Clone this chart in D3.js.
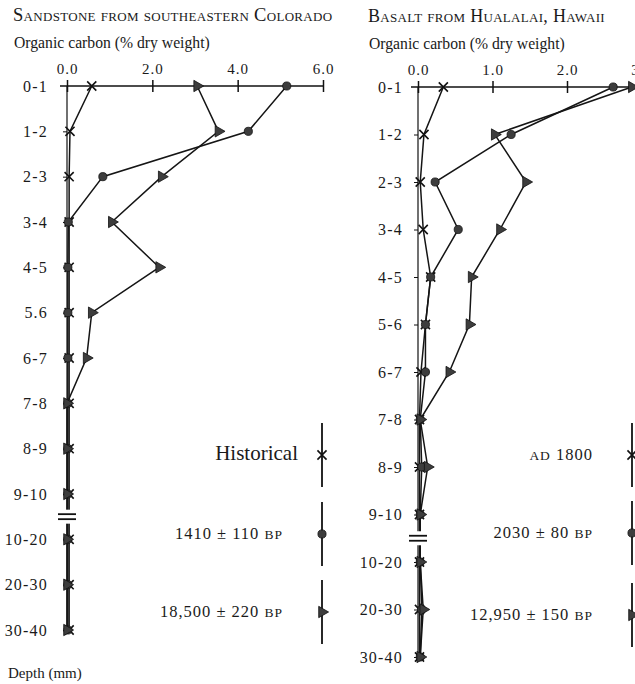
<!DOCTYPE html>
<html>
<head>
<meta charset="utf-8">
<script src="https://cdn.jsdelivr.net/npm/d3@7"></script>
<style>
  body { margin: 0; background: #fff; }
  svg text { font-family: 'Liberation Serif', 'Times New Roman', serif; fill: #1a1a1a; }
</style>
</head>
<body>
<div id="chart"></div>
<script>
const w = 635,
      h = 684;

// depth intervals (mm) -- left panel label "5.6" as printed
const depthCO = ['0-1', '1-2', '2-3', '3-4', '4-5', '5.6', '6-7', '7-8', '8-9', '9-10', '10-20', '20-30', '30-40'];
const depthHI = ['0-1', '1-2', '2-3', '3-4', '4-5', '5-6', '6-7', '7-8', '8-9', '9-10', '10-20', '20-30', '30-40'];

const ticksCO = [0, 2, 4, 6];
const ticksHI = [0, 1, 2, 3];

// organic carbon, % dry weight
const historicalCO = [0.58, 0.07, 0.05, 0.05, 0.05, 0.05, 0.05, 0.05, 0.05, 0.05, 0.05, 0.05, 0.05];
const bp1410CO     = [5.15, 4.25, 0.84, 0.03, 0.02, 0.02, 0.02, 0.02, 0.02, 0.02, 0.02, 0.02, 0.02];
const bp18500CO    = [3.05, 3.55, 2.22, 1.05, 2.16, 0.58, 0.46, 0.0, 0.0, 0.0, 0.0, 0.0, 0.0];

const ad1800HI  = [0.34, 0.08, 0.03, 0.07, 0.17, 0.10, 0.04, 0.02, 0.02, 0.02, 0.02, 0.02, 0.02];
const bp2030HI  = [2.62, 1.25, 0.23, 0.54, 0.17, 0.10, 0.10, 0.03, 0.05, 0.03, 0.03, 0.05, 0.03];
const bp12950HI = [2.87, 1.03, 1.45, 1.10, 0.72, 0.69, 0.42, 0.03, 0.13, 0.03, 0.03, 0.07, 0.03];

const legendCO = [['Historical'], ['1410 ± 110 ', 'BP'], ['18,500 ± 220 ', 'BP']];
const legendHI = [['AD', ' 1800'], ['2030 ± 80 ', 'BP'], ['12,950 ± 150 ', 'BP']];

const markers = ['x', 'circle', 'triangle'];

const svg = d3.select('#chart')
  .append('svg')
  .attr('width', w)
  .attr('height', h);

function marker(sel, type) {
  if (type === 'x') {
    sel.append('path')
       .attr('d', d3.symbol().type(d3.symbolX).size(56))
       .attr('fill', 'none')
       .attr('stroke', '#111')
       .attr('stroke-width', 1.6);
  } else if (type === 'circle') {
    sel.append('path')
       .attr('d', d3.symbol().type(d3.symbolCircle).size(52))
       .attr('fill', '#3d3d3d')
       .attr('stroke', '#111')
       .attr('stroke-width', 0.8);
  } else {
    sel.append('path')
       .attr('d', d3.symbol().type(d3.symbolTriangle).size(56))
       .attr('transform', 'rotate(90)')
       .attr('fill', '#3d3d3d')
       .attr('stroke', '#111')
       .attr('stroke-width', 0.8);
  }
}

function panel(p) {
  const g = svg.append('g');

  const x = d3.scaleLinear().domain([0, p.max]).range([p.x0, p.x1]);
  const y = d3.scalePoint().domain(p.depth).range([p.y0, p.y1]);

  // titles
  g.append('text')
   .attr('x', p.tx)
   .attr('y', p.ty)
   .style('font-variant', 'small-caps')
   .style('font-size', p.tsize)
   .style('letter-spacing', '0.3px')
   .text(p.title);

  g.append('text')
   .attr('x', p.tx + 1)
   .attr('y', p.ty + 27)
   .style('font-size', '15.7px')
   .text('Organic carbon (% dry weight)');

  // top axis
  const xAxis = g.append('g')
    .attr('transform', `translate(0, ${p.y0})`)
    .call(d3.axisTop(x).tickValues(p.ticks).tickFormat(d3.format('.1f')).tickSize(6).tickPadding(6));
  xAxis.select('.domain').remove();
  xAxis.selectAll('.tick line').attr('y1', 6).attr('stroke', '#111').attr('stroke-width', 1.5);
  xAxis.selectAll('.tick text')
       .style('font-size', '15px')
       .style('letter-spacing', '1px')
       .style('font-family', "'Liberation Serif', serif");
  g.append('line')
   .attr('x1', p.x0 - 7).attr('x2', x(p.max))
   .attr('y1', p.y0).attr('y2', p.y0)
   .attr('stroke', '#111').attr('stroke-width', 1.5);

  // depth axis
  const yAxis = g.append('g')
    .attr('transform', `translate(${p.x0}, 0)`)
    .call(d3.axisLeft(y).tickSize(4).tickPadding(p.pad));
  yAxis.select('.domain').remove();
  yAxis.selectAll('.tick line').attr('stroke', '#111');
  yAxis.selectAll('.tick').filter((d, i) => i === 0).select('line').remove();
  yAxis.selectAll('.tick text')
       .style('font-size', '16px')
       .style('letter-spacing', '1.2px')
       .style('font-family', "'Liberation Serif', serif");
  g.append('line')
   .attr('x1', p.x0).attr('x2', p.x0)
   .attr('y1', p.y0).attr('y2', p.y1 + 3)
   .attr('stroke', '#111').attr('stroke-width', 1.2);

  // series
  const line = d3.line()
    .x(d => x(d.v))
    .y(d => y(d.depth));

  p.series.forEach(function(vals) {
    const pts = vals.map((v, i) => ({ depth: p.depth[i], v: v }));
    g.append('path')
     .datum(pts)
     .attr('d', line)
     .attr('fill', 'none')
     .attr('stroke', '#151515')
     .attr('stroke-width', 1.5);
  });

  // axis break
  const yb = (y(p.depth[9]) + y(p.depth[10])) / 2;
  g.append('rect')
   .attr('x', p.x0 - 9).attr('y', yb - 7)
   .attr('width', 18).attr('height', 14)
   .attr('fill', '#fff');
  [-2.5, 2.5].forEach(function(o) {
    g.append('line')
     .attr('x1', p.x0 - 9).attr('x2', p.x0 + 9)
     .attr('y1', yb + o).attr('y2', yb + o)
     .attr('stroke', '#111').attr('stroke-width', 1.8);
  });

  // markers
  p.series.forEach(function(vals, k) {
    g.selectAll(null)
     .data(vals)
     .enter()
     .append('g')
     .attr('transform', (v, i) => `translate(${x(v)}, ${y(p.depth[i])})`)
     .each(function() { marker(d3.select(this), markers[k]); });
  });

  // legend
  const leg = g.selectAll(null)
    .data(p.legend)
    .enter()
    .append('g')
    .attr('transform', (d, i) => `translate(${p.lx}, ${p.ly[i]})`);

  leg.append('line')
     .attr('x1', 0).attr('x2', 0)
     .attr('y1', -32).attr('y2', 32)
     .attr('stroke', '#111').attr('stroke-width', 1.8);

  leg.each(function(d, i) { marker(d3.select(this), markers[i]); });

  const lt = leg.append('text')
    .attr('x', (d, i) => p.ltx[i])
    .attr('y', 5)
    .attr('text-anchor', 'end')
    .style('font-size', (d, i) => (p.big && i === 0) ? '21px' : '16.5px')
    .style('letter-spacing', (d, i) => (p.big && i === 0) ? '0px' : '1px');
  lt.each(function(d) {
    const t = d3.select(this);
    d.forEach(function(part) {
      t.append('tspan')
       .style('font-size', part === 'BP' || part === 'AD' ? '13.5px' : null)
       .text(part);
    });
  });
}

panel({
  title: 'Sandstone from southeastern Colorado',
  depth: depthCO, ticks: ticksCO, max: 6,
  series: [historicalCO, bp1410CO, bp18500CO],
  legend: legendCO, big: true, tsize: '18.5px',
  x0: 67, x1: 323, y0: 86, y1: 630,
  tx: 13, ty: 21, pad: 15,
  lx: 322, ly: [455, 534, 612], ltx: [-24, -39, -39]
});

panel({
  title: 'Basalt from Hualalai, Hawaii',
  depth: depthHI, ticks: ticksHI, max: 3,
  series: [ad1800HI, bp2030HI, bp12950HI],
  legend: legendHI, big: false, tsize: '18px',
  x0: 418, x1: 641.5, y0: 87, y1: 657,
  tx: 368, ty: 22, pad: 11,
  lx: 632, ly: [455, 533, 615], ltx: [-39, -39, -39]
});

svg.append('text')
   .attr('x', 8)
   .attr('y', 678)
   .style('font-size', '15px')
   .text('Depth (mm)');
</script>
</body>
</html>
